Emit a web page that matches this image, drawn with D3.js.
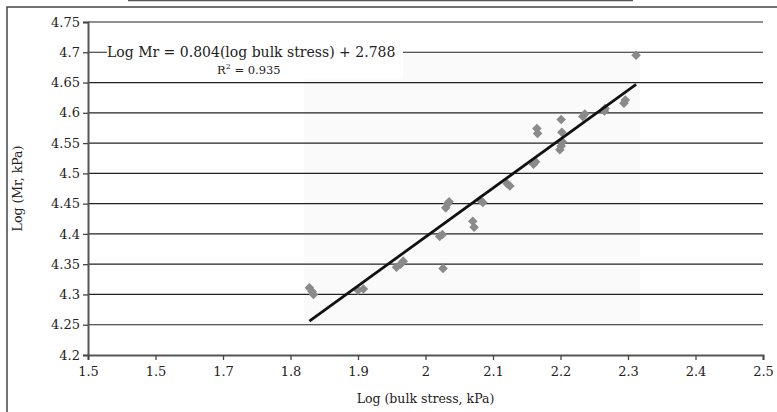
<!DOCTYPE html>
<html>
<head>
<meta charset="utf-8">
<script src="https://cdn.jsdelivr.net/npm/d3@7"></script>
<style>
  body { margin: 0; background: #fff; }
  svg text { font-family: "DejaVu Serif", "Liberation Serif", serif; fill: #222; }
</style>
</head>
<body>
<svg id="chart" width="777" height="412"></svg>
<script>
// log bulk stress (x) and log Mr (y)
const bulkStress = [1.828, 1.834, 1.832, 1.900, 1.908, 1.957, 1.963, 1.967, 2.021, 2.025,
  2.026, 2.030, 2.033, 2.035, 2.070, 2.072, 2.081, 2.085, 2.121, 2.125,
  2.160, 2.163, 2.165, 2.166, 2.201, 2.202, 2.199, 2.201, 2.203, 2.233,
  2.236, 2.265, 2.266, 2.294, 2.296, 2.312];
const logMr = [4.311, 4.300, 4.305, 4.307, 4.309, 4.345, 4.350, 4.355, 4.396, 4.399,
  4.343, 4.443, 4.450, 4.453, 4.421, 4.411, 4.456, 4.452, 4.483, 4.479,
  4.515, 4.519, 4.574, 4.566, 4.589, 4.568, 4.539, 4.545, 4.552, 4.594,
  4.598, 4.603, 4.607, 4.616, 4.621, 4.695];
const trendX = [1.828, 2.312];
const trendY = [4.256, 4.647];

const xTicks = [1.5, 1.6, 1.7, 1.8, 1.9, 2.0, 2.1, 2.2, 2.3, 2.4, 2.5];
const xTickLabels = ["1.5", "1.5", "1.7", "1.8", "1.9", "2", "2.1", "2.2", "2.3", "2.4", "2.5"];
const yTicks = [4.2, 4.25, 4.3, 4.35, 4.4, 4.45, 4.5, 4.55, 4.6, 4.65, 4.7, 4.75];
const yTickLabels = ["4.2", "4.25", "4.3", "4.35", "4.4", "4.45", "4.5", "4.55", "4.6", "4.65", "4.7", "4.75"];

const svg = d3.select("#chart");
const margin = { top: 22, right: 14, bottom: 57, left: 88 };
const width = 777, height = 412;

const x = d3.scaleLinear().domain([1.5, 2.5]).range([margin.left, width - margin.right]);
const y = d3.scaleLinear().domain([4.2, 4.75]).range([height - margin.bottom, margin.top]);

// outer frame and stray line from the page above
svg.append("rect").attr("x", 7).attr("y", 7).attr("width", 780).attr("height", 420)
  .attr("fill", "none").attr("stroke", "#444").attr("stroke-width", 1.5);
svg.append("line").attr("x1", 128).attr("x2", 633).attr("y1", 0.5).attr("y2", 0.5)
  .attr("stroke", "#555").attr("stroke-width", 1.5);

// faint shaded patch in the plot area
svg.append("rect").attr("x", x(1.82)).attr("y", y(4.698)).attr("width", x(2.318) - x(1.82))
  .attr("height", y(4.25) - y(4.698)).attr("fill", "#fafafa");

// gridlines
svg.append("g").selectAll("line").data(yTicks.slice(1)).join("line")
  .attr("x1", x(1.5)).attr("x2", x(2.5))
  .attr("y1", (d) => y(d)).attr("y2", (d) => y(d))
  .attr("stroke", "#222").attr("stroke-width", 1.2);

// axes
const yAxis = svg.append("g").attr("transform", `translate(${margin.left},0)`)
  .call(d3.axisLeft(y).tickValues(yTicks).tickSize(5).tickFormat((d, i) => yTickLabels[i]));
const xAxis = svg.append("g").attr("transform", `translate(0,${height - margin.bottom})`)
  .call(d3.axisBottom(x).tickValues(xTicks).tickSize(5).tickFormat((d, i) => xTickLabels[i]));
[xAxis, yAxis].forEach((g) => {
  g.attr("font-family", null);
  g.select(".domain").attr("stroke", "#555").attr("stroke-width", 2);
  g.selectAll(".tick line").attr("stroke", "#444").attr("stroke-width", 1.3);
  g.selectAll(".tick text").attr("font-size", 13).attr("fill", "#222");
});
yAxis.selectAll(".tick text").attr("x", -8);
xAxis.selectAll(".tick text").attr("y", 12);

// data points
const pts = bulkStress.map((v, i) => ({ x: v, y: logMr[i] }));
svg.append("g").selectAll("path").data(pts).join("path")
  .attr("d", d3.symbol(d3.symbolSquare, 46))
  .attr("transform", (d) => `translate(${x(d.x)},${y(d.y)}) rotate(45)`)
  .attr("fill", "#8a8a8a");

// trendline
svg.append("line")
  .attr("x1", x(trendX[0])).attr("y1", y(trendY[0]))
  .attr("x2", x(trendX[1])).attr("y2", y(trendY[1]))
  .attr("stroke", "#111").attr("stroke-width", 2.8);

// equation label with white box
svg.append("rect").attr("x", 107).attr("y", 37).attr("width", 296).attr("height", 42).attr("fill", "#fff");
svg.append("text").attr("x", 107).attr("y", 57).attr("font-size", 14)
  .text("Log Mr = 0.804(log bulk stress) + 2.788");
const r2 = svg.append("text").attr("x", 217).attr("y", 74).attr("font-size", 11.5);
r2.append("tspan").text("R");
r2.append("tspan").attr("dy", -5).attr("font-size", 8).text("2");
r2.append("tspan").attr("dy", 5).text(" = 0.935");

// axis titles
svg.append("text").attr("x", x(2.0)).attr("y", 403).attr("text-anchor", "middle")
  .attr("font-size", 12.5).text("Log (bulk stress, kPa)");
svg.append("text").attr("transform", `translate(22,${y(4.475)}) rotate(-90)`)
  .attr("text-anchor", "middle").attr("font-size", 12.5).text("Log (Mr, kPa)");
</script>
</body>
</html>
